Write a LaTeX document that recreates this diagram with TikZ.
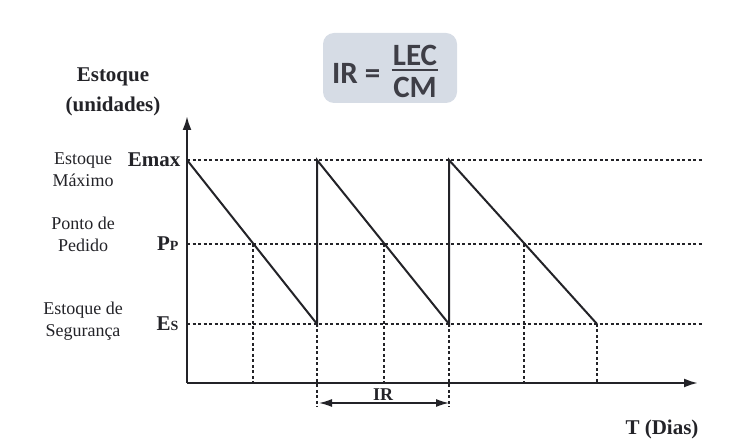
\documentclass[tikz,border=0pt]{standalone}
\usepackage{fontspec}
\setmainfont{Liberation Serif}
\newfontfamily\formulafont{Carlito}
\usetikzlibrary{arrows.meta,calc}
\definecolor{BoxClr}{RGB}{214,220,229}
\definecolor{FormClr}{RGB}{62,62,70}
\definecolor{LineClr}{RGB}{35,35,40}

\begin{document}
\begin{tikzpicture}[x=1pt,y=1pt,
  axis/.style={line width=2.2pt,color=LineClr,-{Latex[length=14pt,width=9pt]}},
  saw/.style={line width=2pt,color=LineClr},
  guide/.style={line width=1.2pt,color=LineClr,dash pattern=on 3pt off 2.5pt},
  lbl/.style={font=\fontsize{18}{22}\selectfont,align=center,color=LineClr},
  blbl/.style={font=\bfseries\fontsize{21}{30}\selectfont,align=center,color=LineClr},
  frm/.style={font=\formulafont\bfseries\fontsize{31}{33}\selectfont,color=FormClr,inner sep=0pt}]
\useasboundingbox (0,0) rectangle (736,447);

% axes
\coordinate (O) at (187,64);
\coordinate (Ytop) at (187,331);
\coordinate (Xend) at (698,64);

% stock levels
\coordinate (Emax) at (187,287);
\coordinate (Pp) at (187,203);
\coordinate (Es) at (187,123);
\coordinate (EmaxR) at (702,287);
\coordinate (PpR) at (702,203);
\coordinate (EsR) at (702,123);

% teeth: top, bottom, reorder point
\foreach \t/\b/\c [count=\i] in {187/317/253,317/449/384,449/597/524}{
  \coordinate (top\i) at (\t,287);
  \coordinate (bot\i) at (\b,123);
  \coordinate (ord\i) at (\c,203);
  \coordinate (ordA\i) at (\c,64);
  \coordinate (botA\i) at (\b,64);
}
\coordinate (irL) at (317,40);
\coordinate (irR) at (449,40);
\coordinate (arL) at (319,44);
\coordinate (arR) at (449,44);

\draw[guide] (Emax) -- (EmaxR);
\draw[guide] (Pp) -- (PpR);
\draw[guide] (Es) -- (EsR);
\foreach \i in {1,2,3}{
  \draw[guide] (ord\i) -- (ordA\i);
}
\draw[guide] (bot1) -- (irL);
\draw[guide] (bot2) -- (irR);
\draw[guide] (bot3) -- (botA3);

\draw[saw] (top1) -- (bot1) -- (top2) -- (bot2) -- (top3) -- (bot3);

\draw[axis] (O) -- (Ytop);
\draw[axis] (O) -- (Xend);
\draw[line width=1.5pt,color=LineClr,{Latex[length=13pt,width=8pt]}-{Latex[length=13pt,width=8pt]}] (arL) -- (arR);

% labels
\node[blbl] (ytitle) at (113,355) {Estoque\\(unidades)};
\node[blbl] (xtitle) at (662,18) {T (Dias)};
\node[blbl,font=\bfseries\fontsize{18}{20}\selectfont] (irlbl) at (383,52) {IR};

\node[blbl,anchor=east] (emaxlbl) at (184,287) {Emax};
\node[blbl,anchor=east] (pplbl) at (182,203) {P{\fontsize{14}{14}\selectfont P}};
\node[blbl,anchor=east] (eslbl) at (182,123) {E{\fontsize{14}{14}\selectfont S}};

\node[lbl] (maxtxt) at (83,277) {Estoque\\Máximo};
\node[lbl] (pptxt) at (83,213) {Ponto de\\Pedido};
\node[lbl] (estxt) at (83,126) {Estoque de\\Segurança};

% formula
\node[fill=BoxClr,rounded corners=11pt,minimum width=134pt,minimum height=70pt] (box) at (390,379) {};
\node[frm,anchor=west] (irf) at (332,374) {IR =};
\node[frm] (num) at (415,392) {LEC};
\node[frm] (den) at (415,360) {CM};
\draw[line width=1.8pt,color=FormClr] ($(num.west)+(-1,-15)$) coordinate (fl) -- ($(num.east)+(1,-15)$) coordinate (fr);

\end{tikzpicture}
\end{document}
